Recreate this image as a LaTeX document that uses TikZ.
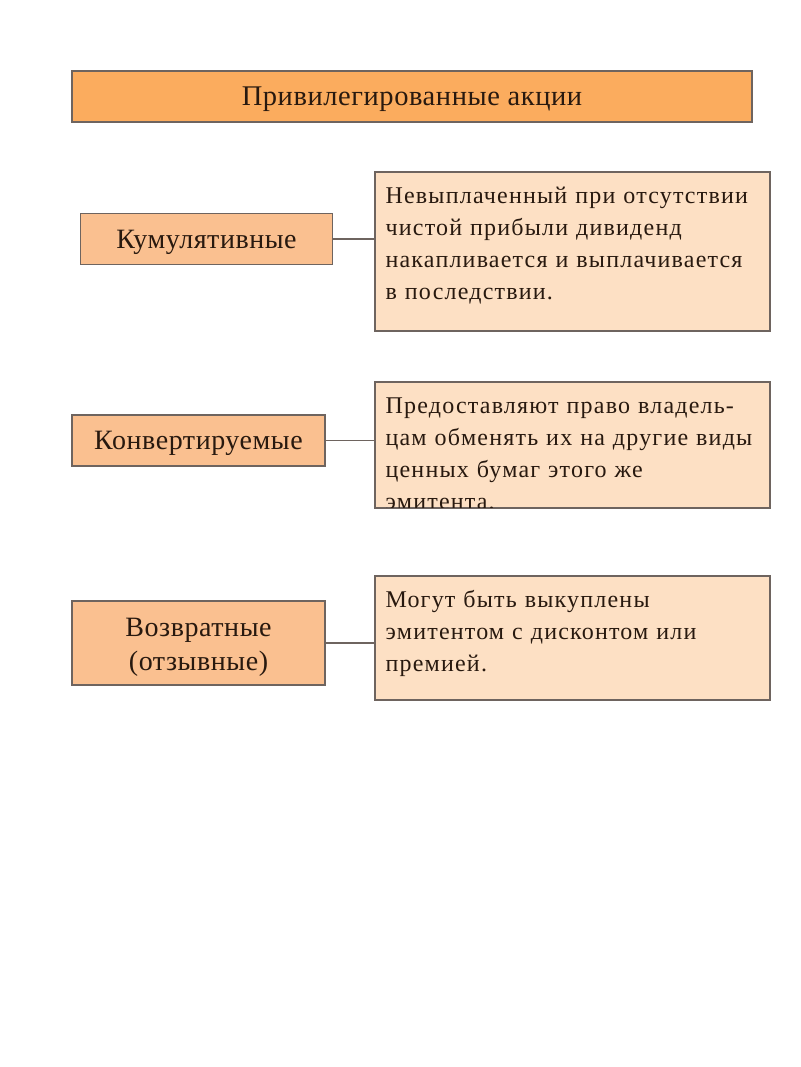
\documentclass[tikz,border=0pt]{standalone}
\usepackage{fontspec}
\setmainfont{Liberation Serif}
\newfontfamily\bodyfont[LetterSpace=5]{Liberation Serif}
\newfontfamily\labelfont[LetterSpace=2]{Liberation Serif}
\definecolor{titlefill}{RGB}{251,172,94}
\definecolor{labelfill}{RGB}{250,192,144}
\definecolor{textfill}{RGB}{253,224,196}
\definecolor{edge}{RGB}{110,100,95}
\definecolor{ink}{RGB}{40,25,15}
\tikzset{
  box/.style={draw=edge, line width=1.2pt, inner sep=0pt},
  titlebox/.style={box, fill=titlefill},
  labelbox/.style={box, fill=labelfill},
  descbox/.style={box, fill=textfill},
  titletext/.style={inner sep=0pt, text=ink, font=\labelfont\fontsize{28.5}{32}\selectfont},
  labeltext/.style={inner sep=0pt, align=center, text=ink, font=\labelfont\fontsize{28}{34}\selectfont},
  desctext/.style={anchor=base west, inner sep=0pt, align=left, text width=385pt, text=ink, font=\bodyfont\fontsize{24}{32}\selectfont},
  link/.style={draw=edge, line width=1.2pt}
}
\begin{document}
\begin{tikzpicture}[x=1pt,y=-1pt]
\useasboundingbox (0,0) rectangle (800,1067);
\fill[white] (0,0) rectangle (800,1067);
\node[titlebox, minimum width=680pt, minimum height=51pt] (title) at (412,96.5) {};
\node[titletext] (titlet) at ([yshift=-3pt]title.center) {Привилегированные акции};

\node[labelbox, minimum width=252pt, minimum height=51pt] (kum) at (206.5,239) {};
\node[labeltext] (kumt) at ([yshift=-3pt]kum.center) {Кумулятивные};
\node[descbox, minimum width=395pt, minimum height=159pt] (t1) at (572.5,251.5) {};
\node[desctext] (d1) at ([shift={(11pt,-32pt)}]t1.north west) {Невыплаченный при отсутствии\\чистой прибыли дивиденд\\накапливается и выплачивается\\в последствии.};

\node[labelbox, minimum width=253pt, minimum height=51pt] (konv) at (198.5,440.5) {};
\node[labeltext] (konvt) at ([yshift=-3pt]konv.center) {Конвертируемые};
\node[descbox, minimum width=395pt, minimum height=126pt] (t2) at (572.5,445) {};
\begin{scope}
\clip (t2.south west) rectangle (t2.north east);
\node[desctext] (d2) at ([shift={(11pt,-32pt)}]t2.north west) {Предоставляют право владель-\\цам обменять их на другие виды\\ценных бумаг этого же\\эмитента.};
\end{scope}
\draw[draw=edge, line width=1.2pt] (t2.south west) rectangle (t2.north east);

\node[labelbox, minimum width=253pt, minimum height=84pt] (vozv) at (198.5,643) {};
\node[labeltext] (vozvt) at ([yshift=-4pt]vozv.center) {Возвратные\\(отзывные)};
\node[descbox, minimum width=395pt, minimum height=124pt] (t3) at (572.5,638) {};
\node[desctext] (d3) at ([shift={(11pt,-32pt)}]t3.north west) {Могут быть выкуплены\\эмитентом с дисконтом или\\премией.};

\draw[link] (kum.east) -- (t1.west |- kum.east);
\draw[link] (konv.east) -- (t2.west |- konv.east);
\draw[link] (vozv.east) -- (t3.west |- vozv.east);
\end{tikzpicture}
\end{document}
